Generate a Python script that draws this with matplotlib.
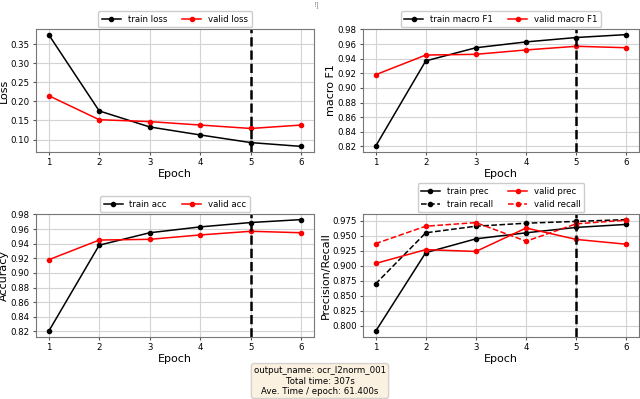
import matplotlib
matplotlib.use("Agg")
import matplotlib.pyplot as plt
from matplotlib.ticker import MultipleLocator, FormatStrFormatter

epochs = [1, 2, 3, 4, 5, 6]
best_epoch = 5

train_loss = [0.375, 0.175, 0.133, 0.112, 0.092, 0.082]
valid_loss = [0.215, 0.152, 0.147, 0.138, 0.129, 0.138]

train_f1 = [0.820, 0.937, 0.955, 0.963, 0.969, 0.973]
valid_f1 = [0.918, 0.945, 0.946, 0.952, 0.957, 0.955]

train_acc = [0.820, 0.938, 0.955, 0.963, 0.969, 0.973]
valid_acc = [0.918, 0.945, 0.946, 0.952, 0.957, 0.955]

train_prec = [0.791, 0.922, 0.945, 0.955, 0.964, 0.969]
train_recall = [0.870, 0.955, 0.966, 0.971, 0.974, 0.977]
valid_prec = [0.904, 0.927, 0.924, 0.963, 0.944, 0.936]
valid_recall = [0.937, 0.966, 0.972, 0.941, 0.970, 0.976]

info = "output_name: ocr_l2norm_001\nTotal time: 307s\nAve. Time / epoch: 61.400s"

fig = plt.figure(figsize=(6.4, 3.99), dpi=100)

W, H = 640, 399


def make_ax(x0, y0, x1, y1):
    return fig.add_axes([x0 / W, 1 - y1 / H, (x1 - x0) / W, (y1 - y0) / H])


ax1 = make_ax(36, 29, 314, 152)
ax2 = make_ax(363, 29, 639, 152)
ax3 = make_ax(36, 214, 314, 337)
ax4 = make_ax(363, 214, 639, 337)

kw = dict(marker="o", markersize=3, linewidth=1.1)

ax1.plot(epochs, train_loss, color="black", label="train loss", **kw)
ax1.plot(epochs, valid_loss, color="red", label="valid loss", **kw)
ax1.set_ylabel("Loss")
ax1.yaxis.set_major_locator(MultipleLocator(0.05))
ax1.yaxis.set_major_formatter(FormatStrFormatter("%.2f"))

ax2.plot(epochs, train_f1, color="black", label="train macro F1", **kw)
ax2.plot(epochs, valid_f1, color="red", label="valid macro F1", **kw)
ax2.set_ylabel("macro F1")
ax2.yaxis.set_major_locator(MultipleLocator(0.02))
ax2.yaxis.set_major_formatter(FormatStrFormatter("%.2f"))

ax3.plot(epochs, train_acc, color="black", label="train acc", **kw)
ax3.plot(epochs, valid_acc, color="red", label="valid acc", **kw)
ax3.set_ylabel("Accuracy")
ax3.yaxis.set_major_locator(MultipleLocator(0.02))
ax3.yaxis.set_major_formatter(FormatStrFormatter("%.2f"))

ax4.plot(epochs, train_prec, color="black", label="train prec", **kw)
ax4.plot(epochs, train_recall, color="black", linestyle="--", label="train recall", **kw)
ax4.plot(epochs, valid_prec, color="red", label="valid prec", **kw)
ax4.plot(epochs, valid_recall, color="red", linestyle="--", label="valid recall", **kw)
ax4.set_ylabel("Precision/Recall")
ax4.yaxis.set_major_locator(MultipleLocator(0.025))
ax4.yaxis.set_major_formatter(FormatStrFormatter("%.3f"))

for ax in [ax1, ax2, ax3, ax4]:
    ax.axvline(best_epoch, color="black", linestyle="--", linewidth=1.8)
    ax.set_xticks(epochs)
    ax.set_xlabel("Epoch", fontsize=8, labelpad=1)
    ax.yaxis.label.set_size(8)
    ax.yaxis.labelpad = 1
    ax.grid(True, color="#d3d3d3", linewidth=0.8)
    ax.tick_params(labelsize=6.2, length=2.5, pad=2, color="#555555")
    for s in ax.spines.values():
        s.set_color("#777777")
    ax.legend(loc="lower center", bbox_to_anchor=(0.5, 1.0), ncol=2,
              fontsize=6.2, borderaxespad=0.2, columnspacing=1.8,
              handlelength=2.2, framealpha=1, edgecolor="#cccccc")

fig.text(0.5, 1 - 381 / H, info, ha="center", va="center", fontsize=6.2,
         multialignment="center",
         bbox=dict(boxstyle="round", facecolor="wheat", alpha=0.4, edgecolor="#999999"))

fig.text(317 / W, 1 - 5 / H, "!]", ha="center", va="center", fontsize=5, color="#888888")

fig.savefig("out.png", dpi=100)
